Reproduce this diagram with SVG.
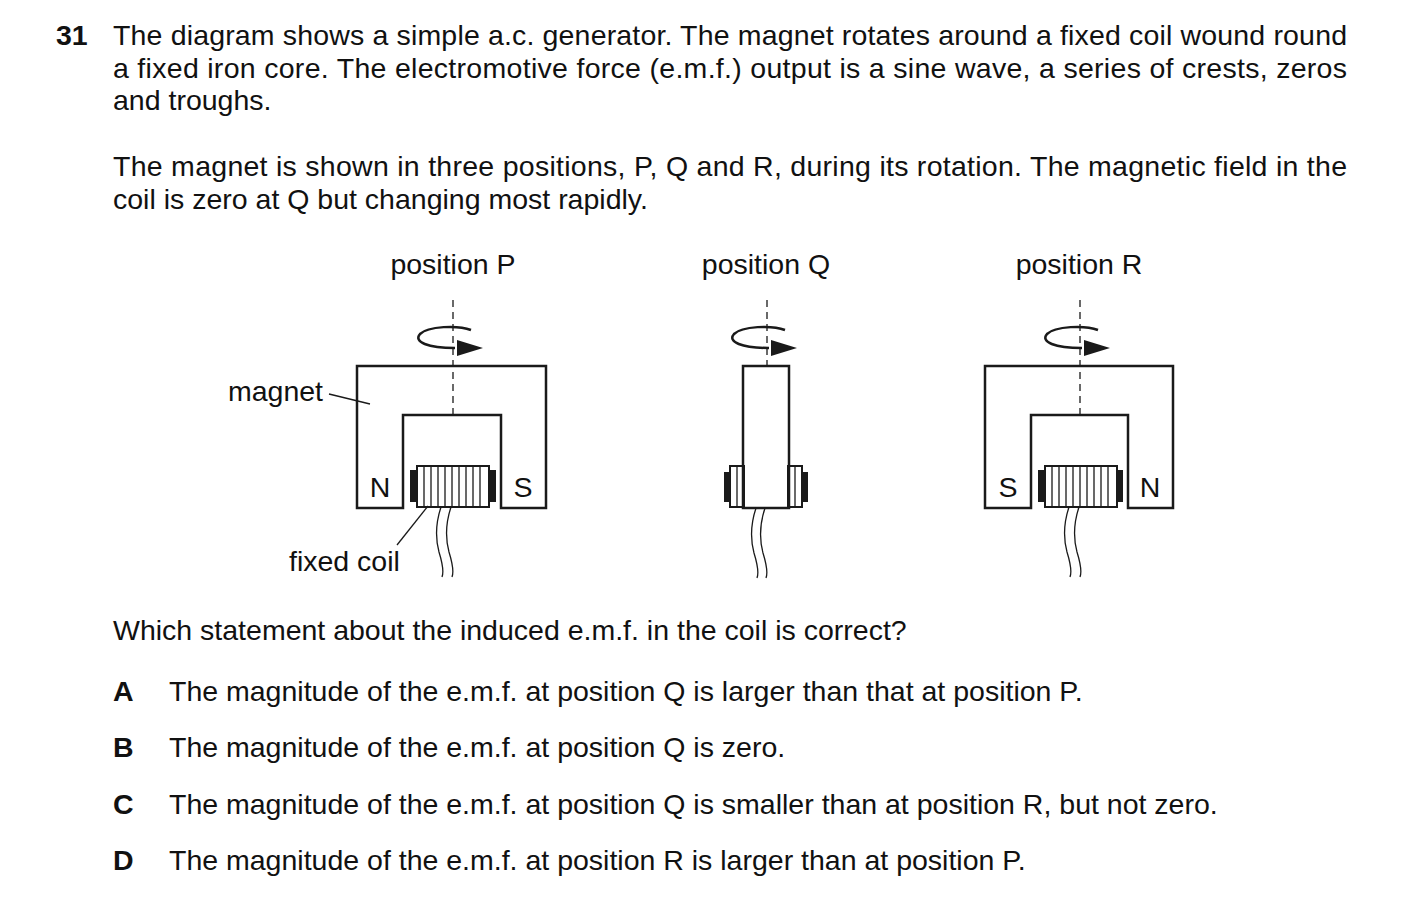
<svg xmlns="http://www.w3.org/2000/svg" width="1403" height="923" viewBox="0 0 1403 923">
<style>
text{font-family:"Liberation Sans",Arial,sans-serif;font-size:28.5px;fill:#111}
.b{font-weight:bold}
.s{fill:none;stroke:#1a1a1a;stroke-width:2.5}
.t{fill:none;stroke:#1a1a1a;stroke-width:1.3}
.d{fill:none;stroke:#1a1a1a;stroke-width:1.3;stroke-dasharray:7,5}
.w{fill:#fff;stroke:#1a1a1a;stroke-width:2}
.k{fill:#1a1a1a}
</style>
<defs>
<g id="rot">
<path class="s" d="M18,-10 C5,-15 -25,-14 -33,-6 C-40,2 -25,8 2,8" stroke-width="2.2"/>
<polygon class="k" points="4,0 30,8 4,16"/>
</g>
<g id="wire">
<path class="t" d="M0,0 C-5,15 -6,30 -2,45 C2,58 3,65 1,70"/>
</g>
</defs>
<rect width="1403" height="923" fill="#fff"/>
<text x="56" y="45" class="b">31</text>
<text x="113" y="45" textLength="1234" lengthAdjust="spacing">The diagram shows a simple a.c. generator. The magnet rotates around a fixed coil wound round</text>
<text x="113" y="78" textLength="1234" lengthAdjust="spacing">a fixed iron core. The electromotive force (e.m.f.) output is a sine wave, a series of crests, zeros</text>
<text x="113" y="110">and troughs.</text>
<text x="113" y="176" textLength="1234" lengthAdjust="spacing">The magnet is shown in three positions, P, Q and R, during its rotation. The magnetic field in the</text>
<text x="113" y="209">coil is zero at Q but changing most rapidly.</text>

<g id="posP">
<text x="453" y="274" text-anchor="middle">position P</text>
<line class="d" x1="453" y1="300" x2="453" y2="415"/>
<use href="#rot" x="453" y="340"/>
<path class="s" fill="#fff" d="M357,508 V366 H546 V508 H501 V415 H403 V508 Z"/>
<rect class="k" x="410" y="470" width="8" height="32"/>
<rect class="k" x="488" y="470" width="8" height="32"/>
<rect class="w" x="417" y="466" width="72" height="41"/>
<path class="t" d="M424,466V507M431,466V507M438,466V507M445,466V507M452,466V507M459,466V507M466,466V507M473,466V507M480,466V507"/>
<use href="#wire" x="441" y="507"/>
<use href="#wire" x="451" y="507"/>
<text x="380" y="497" text-anchor="middle">N</text>
<text x="523" y="497" text-anchor="middle">S</text>
</g>
<g id="labels">
<text x="323" y="401" text-anchor="end">magnet</text>
<line class="t" x1="329" y1="394" x2="370" y2="404"/>
<text x="289" y="571">fixed coil</text>
<line class="t" x1="397" y1="545" x2="428" y2="506"/>
</g>

<g id="posQ">
<text x="766" y="274" text-anchor="middle">position Q</text>
<line class="d" x1="767" y1="300" x2="767" y2="366"/>
<use href="#rot" x="767" y="340"/>
<rect class="w" x="730" y="466" width="14" height="41"/>
<line class="t" x1="737" y1="466" x2="737" y2="507"/>
<rect class="k" x="724" y="472" width="7" height="30"/>
<rect class="w" x="788" y="466" width="14" height="41"/>
<line class="t" x1="795" y1="466" x2="795" y2="507"/>
<rect class="k" x="801" y="472" width="7" height="30"/>
<rect class="s" fill="#fff" x="743" y="366" width="46" height="142"/>
<use href="#wire" x="756" y="508"/>
<use href="#wire" x="765" y="508"/>
</g>

<g id="posR">
<text x="1079" y="274" text-anchor="middle">position R</text>
<line class="d" x1="1080" y1="300" x2="1080" y2="415"/>
<use href="#rot" x="1080" y="340"/>
<path class="s" fill="#fff" d="M985,508 V366 H1173 V508 H1128 V415 H1031 V508 Z"/>
<rect class="k" x="1038" y="470" width="8" height="32"/>
<rect class="k" x="1115" y="470" width="8" height="32"/>
<rect class="w" x="1045" y="466" width="72" height="41"/>
<path class="t" d="M1052,466V507M1059,466V507M1066,466V507M1073,466V507M1080,466V507M1087,466V507M1094,466V507M1101,466V507M1108,466V507"/>
<use href="#wire" x="1069" y="507"/>
<use href="#wire" x="1079" y="507"/>
<text x="1008" y="497" text-anchor="middle">S</text>
<text x="1150" y="497" text-anchor="middle">N</text>
</g>

<text x="113" y="640">Which statement about the induced e.m.f. in the coil is correct?</text>
<text x="113" y="701" class="b">A</text>
<text x="169" y="701">The magnitude of the e.m.f. at position Q is larger than that at position P.</text>
<text x="113" y="757" class="b">B</text>
<text x="169" y="757">The magnitude of the e.m.f. at position Q is zero.</text>
<text x="113" y="814" class="b">C</text>
<text x="169" y="814">The magnitude of the e.m.f. at position Q is smaller than at position R, but not zero.</text>
<text x="113" y="870" class="b">D</text>
<text x="169" y="870">The magnitude of the e.m.f. at position R is larger than at position P.</text>
</svg>
